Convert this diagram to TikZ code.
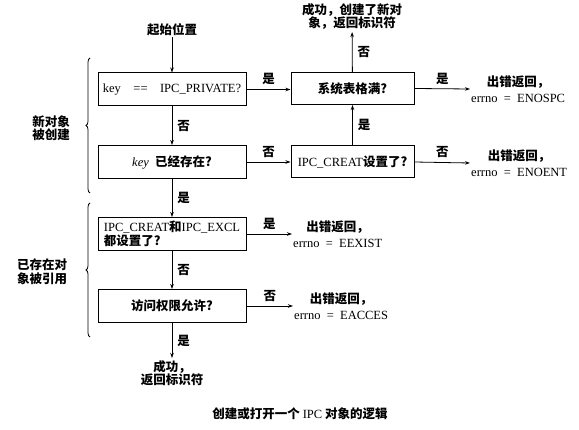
\documentclass[tikz,border=0pt]{standalone}
\usepackage{fontspec}
\setmainfont{Liberation Serif}
\newfontfamily\cjk{Noto Sans CJK SC}
\newcommand\zh[1]{{\cjk\bfseries #1}}
\usetikzlibrary{arrows.meta,decorations.pathreplacing}
\begin{document}
\begin{tikzpicture}[x=1pt,y=-1pt,
  box/.style={draw,line width=1pt,minimum width=148pt,minimum height=33pt,inner sep=2pt,font=\fontsize{12.5}{13.5}\selectfont},
  rbox/.style={box,minimum width=123pt,minimum height=32pt},
  txt/.style={font=\fontsize{12.5}{13.5}\selectfont,align=center,inner sep=1pt},
  err/.style={txt,font=\fontsize{12.5}{16.5}\selectfont},
  lbl/.style={font=\fontsize{12.5}{13}\selectfont\cjk\bfseries,inner sep=1pt},
  arr/.style={-{Stealth[length=5pt,width=3.5pt]},line width=0.8pt},
  brc/.style={decorate,decoration={brace,amplitude=4pt},line width=0.8pt}]
\useasboundingbox[fill=white] (0,0) rectangle (579,430);
% nodes
\node[txt] (start) at (172,30) {\zh{起始位置}};
\node[box] (b1) at (172,89.5) {key\quad==\quad IPC\_PRIVATE?};
\node[box] (b2) at (172,162) {\textit{key}\enspace\zh{已经存在?}};
\node[box,align=left] (b3) at (172,234) {IPC\_CREAT\zh{和}IPC\_EXCL\\\zh{都设置了?}};
\node[box] (b4) at (172,306) {\zh{访问权限允许?}};
\node[rbox] (ra) at (352.5,88.5) {\zh{系统表格满?}};
\node[rbox] (rb) at (352.5,162) {IPC\_CREAT\zh{设置了?}};
\node[txt,anchor=south,inner sep=2pt] (succa) at (352,32) {\zh{成功，创建了新对}\\\zh{象，返回标识符}};
\node[err,anchor=west] (enospc) at (470,89) {\zh{出错返回，}\\errno\enspace=\enspace ENOSPC};
\node[err,anchor=west] (enoent) at (470,163) {\zh{出错返回，}\\errno\enspace=\enspace ENOENT};
\node[err,anchor=west] (eexist) at (292,234) {\zh{出错返回，}\\errno\enspace=\enspace EEXIST};
\node[err,anchor=west] (eacces) at (293,306) {\zh{出错返回，}\\errno\enspace=\enspace EACCES};
\node[txt,anchor=north,inner sep=2pt] (succb) at (172,358) {\zh{成功，}\\\zh{返回标识符}};
\node[txt] (cap) at (300,414) {\zh{创建或打开一个 }IPC\zh{ 对象的逻辑}};
\node[txt] (g1) at (51,128) {\zh{新对象}\\\zh{被创建}};
\node[txt] (g2) at (42,272) {\zh{已存在对}\\\zh{象被引用}};
% connectors
\draw[arr] (start) -- (b1);
\draw[arr] (b1) -- node[lbl,right=4pt] {否} (b2);
\draw[arr] (b2) -- node[lbl,right=4pt] {是} (b3);
\draw[arr] (b3) -- node[lbl,right=4pt] {否} (b4);
\draw[arr] (b4) -- node[lbl,right=4pt] {是} (succb);
\draw[arr] (b1.east) -- node[lbl,above=3pt] {是} (ra.west |- b1.east);
\draw[arr] (b2.east) -- node[lbl,above=3pt] {否} (rb.west);
\draw[arr] (rb) -- node[lbl,right=4pt] {是} (ra);
\draw[arr] (ra) -- node[lbl,right=4pt] {否} (succa);
\draw[arr] (ra.east) -- node[lbl,above=3pt] {是} (enospc.west);
\draw[arr] (rb.east) -- node[lbl,above=3pt] {否} (enoent.west);
\draw[arr] (b3.east) -- node[lbl,above=3pt] {是} (eexist.west);
\draw[arr] (b4.east) -- node[lbl,above=3pt] {否} (eacces.west);
% braces
\draw[brc] (90,193) -- (90,58);
\draw[brc] (90,337) -- (90,203);
\end{tikzpicture}
\end{document}
